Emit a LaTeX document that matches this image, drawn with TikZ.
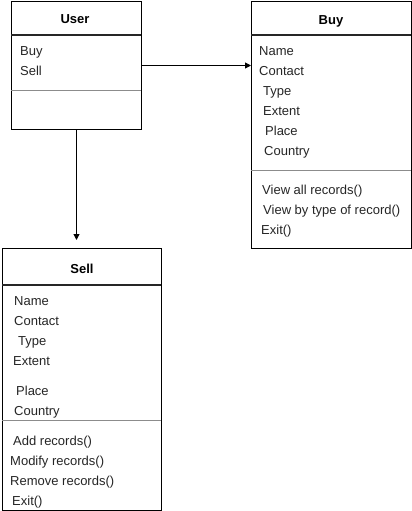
\documentclass[tikz,border=0pt]{standalone}
\usepackage{fontspec}
\setmainfont{Liberation Sans}
\usetikzlibrary{arrows.meta}
\begin{document}
\begin{tikzpicture}[x=1pt,y=-1pt,
  box/.style={draw=black,line width=1pt,inner sep=0pt,anchor=north west},
  title/.style={font=\fontsize{13}{15}\selectfont\bfseries,inner sep=0pt,anchor=mid},
  item/.style={font=\fontsize{13}{15}\selectfont,anchor=mid west,inner sep=0pt,text=black!85},
  hdr/.style={line width=2pt,black!85},
  sep/.style={line width=0.8pt,black!45},
  arr/.style={line width=1pt,-{Triangle[length=6pt,width=6pt]}}]
\useasboundingbox[fill=white] (0,0) rectangle (412,511);
% User
\node[box,minimum width=130pt,minimum height=128pt] (user) at (11,1) {};
\node[title] (usert) at (75,21) {User};
\draw[hdr] (11,35) -- (141,35);
\node[item] (u1) at (20,53) {Buy};
\node[item] (u2) at (20,73) {Sell};
\draw[sep] (11,90) -- (141,90);
% Buy
\node[box,minimum width=160pt,minimum height=247pt] (buy) at (251,1) {};
\node[title] (buyt) at (331,22) {Buy};
\draw[hdr] (251,35) -- (411,35);
\node[item] (b1) at (259,53) {Name};
\node[item] (b2) at (259,73) {Contact};
\node[item] (b3) at (263,93) {Type};
\node[item] (b4) at (263,113) {Extent};
\node[item] (b5) at (265,133) {Place};
\node[item] (b6) at (264,153) {Country};
\draw[sep] (251,170) -- (411,170);
\node[item] (b7) at (262,192) {View all records()};
\node[item] (b8) at (263,212) {View by type of record()};
\node[item] (b9) at (261,232) {Exit()};
% Sell
\node[box,minimum width=159pt,minimum height=262pt] (sell) at (2,248) {};
\node[title] (sellt) at (82,271) {Sell};
\draw[hdr] (2,285) -- (161,285);
\node[item] (s1) at (14,303) {Name};
\node[item] (s2) at (14,323) {Contact};
\node[item] (s3) at (18,343) {Type};
\node[item] (s4) at (13,363) {Extent};
\node[item] (s5) at (16,393) {Place};
\node[item] (s6) at (14,413) {Country};
\draw[sep] (2,420) -- (161,420);
\node[item] (s7) at (13,443) {Add records()};
\node[item] (s8) at (10,463) {Modify records()};
\node[item] (s9) at (10,483) {Remove records()};
\node[item] (s10) at (12,503) {Exit()};
% connectors
\draw[arr] (user.east) -- (user.east -| buy.west);
\coordinate (selltip) at (76.5,240);
\draw[arr] (user.south -| selltip) -- (selltip);
\end{tikzpicture}
\end{document}
